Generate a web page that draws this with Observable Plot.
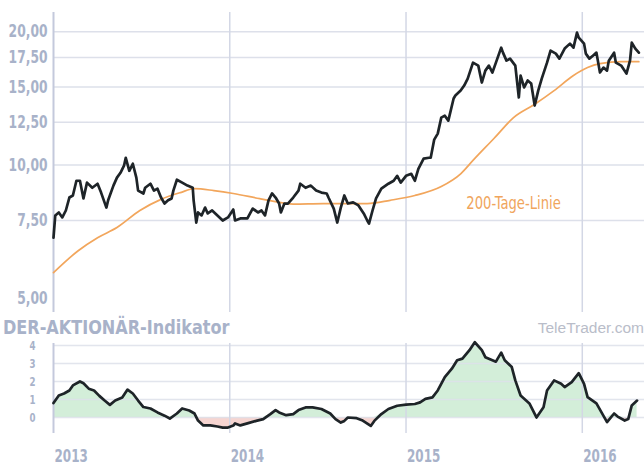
<!DOCTYPE html>
<html><head><meta charset="utf-8">
<script src="https://cdn.jsdelivr.net/npm/d3@7"></script>
<script src="https://cdn.jsdelivr.net/npm/@observablehq/plot@0.6"></script>
<style>
body{margin:0;background:#fff;}
#wrap{position:relative;width:644px;height:466px;overflow:hidden;background:#fff;}
#wrap svg{position:absolute;left:0;}
.lbl{position:absolute;white-space:nowrap;line-height:1;}
</style></head><body><div id="wrap"></div>
<script>
// Kurs (Euro), Zeitpunkte als Dezimaljahr
const priceT = [2013.00,2013.01,2013.03,2013.05,2013.07,2013.09,2013.11,2013.13,2013.15,2013.17,2013.19,2013.22,2013.25,2013.27,2013.30,2013.31,2013.34,2013.36,2013.38,2013.40,2013.41,2013.43,2013.45,2013.47,2013.48,2013.51,2013.52,2013.55,2013.57,2013.59,2013.61,2013.63,2013.65,2013.67,2013.68,2013.70,2013.73,2013.76,2013.79,2013.795,2013.81,2013.82,2013.84,2013.86,2013.875,2013.90,2013.93,2013.96,2013.99,2014.02,2014.03,2014.06,2014.10,2014.13,2014.16,2014.18,2014.20,2014.22,2014.24,2014.26,2014.28,2014.29,2014.31,2014.33,2014.36,2014.39,2014.40,2014.43,2014.46,2014.49,2014.52,2014.55,2014.56,2014.59,2014.61,2014.63,2014.65,2014.67,2014.70,2014.73,2014.76,2014.78,2014.79,2014.81,2014.83,2014.86,2014.90,2014.93,2014.95,2014.97,2015.00,2015.03,2015.05,2015.07,2015.10,2015.13,2015.14,2015.16,2015.18,2015.20,2015.22,2015.24,2015.27,2015.28,2015.31,2015.33,2015.35,2015.38,2015.41,2015.43,2015.45,2015.47,2015.49,2015.51,2015.54,2015.55,2015.57,2015.59,2015.62,2015.64,2015.65,2015.67,2015.69,2015.71,2015.73,2015.75,2015.77,2015.80,2015.82,2015.85,2015.87,2015.90,2015.93,2015.95,2015.97,2015.98,2016.01,2016.02,2016.04,2016.06,2016.08,2016.10,2016.12,2016.14,2016.15,2016.18,2016.19,2016.22,2016.25,2016.27,2016.28,2016.30,2016.32];
const priceV = [6.86,7.70,7.82,7.62,7.90,8.45,8.54,9.22,9.22,8.41,9.13,8.89,9.08,8.67,8.02,8.33,8.99,9.37,9.61,9.97,10.39,9.71,10.07,9.37,8.76,8.63,8.89,9.08,8.76,8.85,8.45,8.19,8.33,8.41,8.76,9.27,9.13,8.99,8.89,8.33,7.42,7.82,7.70,8.02,7.78,7.90,7.70,7.50,7.62,7.94,7.50,7.58,7.58,7.98,7.82,7.90,7.70,8.33,8.63,8.45,8.19,7.82,8.19,8.19,8.45,8.76,9.08,8.89,8.99,8.76,8.67,8.63,8.45,7.98,7.42,8.02,8.54,8.19,8.24,8.11,7.78,7.50,7.38,7.90,8.41,8.85,9.08,9.22,9.46,9.13,9.46,9.56,9.22,9.81,10.34,10.39,10.39,11.42,11.78,12.80,12.93,12.60,14.14,14.36,14.73,15.12,15.68,17.03,16.77,15.36,16.34,16.77,16.18,17.03,18.41,17.94,17.21,17.39,16.77,14.21,15.93,14.97,15.52,15.28,13.63,14.73,15.68,17.03,18.13,17.85,17.39,18.32,18.80,18.41,19.90,19.39,18.80,17.85,17.39,17.66,17.94,16.18,16.60,16.34,17.21,17.94,17.03,16.77,16.09,17.21,18.90,18.32,17.94];

// 200-Tage-Linie
const maT = [2013.00,2013.14,2013.25,2013.36,2013.49,2013.61,2013.72,2013.80,2013.91,2014.02,2014.17,2014.22,2014.36,2014.53,2014.78,2014.91,2015.05,2015.20,2015.31,2015.38,2015.50,2015.61,2015.73,2015.84,2015.95,2016.03,2016.10,2016.22,2016.32];
const maV = [5.72,6.41,6.86,7.23,7.90,8.37,8.67,8.85,8.76,8.63,8.40,8.33,8.17,8.19,8.19,8.33,8.54,8.95,9.56,10.25,11.50,12.80,13.72,14.73,15.93,16.60,16.94,17.12,17.12];

// DER-AKTIONÄR-Indikator
const indT = [2013.00,2013.03,2013.06,2013.09,2013.11,2013.15,2013.17,2013.20,2013.23,2013.26,2013.29,2013.32,2013.35,2013.39,2013.42,2013.45,2013.48,2013.51,2013.55,2013.59,2013.63,2013.66,2013.70,2013.73,2013.77,2013.80,2013.82,2013.85,2013.89,2013.93,2013.96,2013.99,2014.02,2014.03,2014.06,2014.10,2014.15,2014.19,2014.23,2014.26,2014.28,2014.32,2014.36,2014.39,2014.43,2014.47,2014.52,2014.57,2014.60,2014.63,2014.65,2014.67,2014.72,2014.75,2014.80,2014.82,2014.86,2014.90,2014.95,2015.00,2015.05,2015.08,2015.11,2015.15,2015.18,2015.22,2015.26,2015.29,2015.32,2015.36,2015.39,2015.43,2015.45,2015.49,2015.51,2015.54,2015.56,2015.60,2015.62,2015.65,2015.70,2015.74,2015.78,2015.80,2015.84,2015.88,2015.90,2015.94,2015.98,2016.01,2016.03,2016.08,2016.12,2016.14,2016.18,2016.20,2016.24,2016.26,2016.28,2016.31];
const indV = [0.80,1.22,1.33,1.50,1.78,2.00,1.90,1.60,1.50,1.20,0.94,0.70,0.94,1.11,1.55,1.33,0.94,0.58,0.50,0.28,0.10,-0.06,0.22,0.50,0.39,0.22,-0.17,-0.44,-0.44,-0.50,-0.56,-0.56,-0.45,-0.33,-0.44,-0.33,-0.19,-0.09,0.19,0.41,0.28,0.13,0.19,0.41,0.56,0.56,0.47,0.22,-0.09,-0.28,-0.19,0.00,-0.04,-0.15,-0.47,-0.19,0.19,0.47,0.65,0.71,0.75,0.84,1.03,1.12,1.50,2.24,2.71,3.18,3.27,3.74,4.18,3.74,3.35,3.18,3.10,3.60,3.18,2.80,2.06,1.22,0.78,0.00,0.57,1.50,2.06,1.87,1.69,1.96,2.46,1.87,1.13,0.78,0.09,-0.26,0.22,0.05,-0.17,-0.09,0.67,0.94];

const years = [2013, 2014, 2015, 2016];
const priceTicks = [5, 7.5, 10, 12.5, 15, 17.5, 20];
const indTicks = [0, 1, 2, 3, 4];
const maLabel = "200-Tage-Linie";

const toDate = t => {
  const y = Math.floor(t);
  const a = Date.UTC(y, 0, 1), b = Date.UTC(y + 1, 0, 1);
  return new Date(a + (t - y) * (b - a));
};
const priceData = priceT.map((t, i) => ({date: toDate(t), value: priceV[i]}));
const maData = maT.map((t, i) => ({date: toDate(t), value: maV[i]}));
const indData = indT.map((t, i) => ({date: toDate(t), value: indV[i]}));
const yearDates = years.map(y => new Date(Date.UTC(y, 0, 1)));
const xDomain = [yearDates[0], toDate(2016.352)];

const FONT = "'DejaVu Sans Condensed','DejaVu Sans',sans-serif";
const LBL = "#a8b2c9";
const GRID = "#dde0ea";
const VGRID = "#d3d7e5";
const AXIS = "#c4c9dc";
const fmt = d => d.toFixed(2).replace(".", ",");

const main = Plot.plot({
  width: 644, height: 314,
  marginLeft: 53, marginRight: 0, marginTop: 12, marginBottom: 2,
  style: {fontFamily: FONT, background: "transparent", overflow: "visible"},
  x: {type: "utc", domain: xDomain, axis: null},
  y: {type: "log", domain: [4.65, 22.1], axis: null},
  marks: [
    Plot.ruleY(priceTicks.slice(1), {stroke: GRID, strokeWidth: 1.5}),
    Plot.ruleX(yearDates.slice(1), {stroke: VGRID, strokeWidth: 1.5}),
    Plot.ruleX(yearDates.slice(0, 1), {stroke: AXIS, strokeWidth: 2}),
    Plot.axisY(priceTicks, {label: null, tickSize: 0, tickPadding: 6, tickFormat: fmt, fill: LBL, fontSize: 18, fontWeight: "bold", className: "sq"}),
    Plot.line(maData, {x: "date", y: "value", stroke: "#f2a65c", strokeWidth: 1.7, curve: "monotone-x"}),
    Plot.line(priceData, {x: "date", y: "value", stroke: "#1e2428", strokeWidth: 2.7, strokeLinejoin: "round"}),
    Plot.text([maLabel], {x: () => toDate(2015.61), y: () => 8.2, text: d => d, fill: "#f0a55c", fontSize: 17, textAnchor: "middle", className: "sq2"})
  ]
});
main.style.top = "0px";

const ind = Plot.plot({
  width: 644, height: 152,
  marginLeft: 53, marginRight: 0, marginTop: 29, marginBottom: 33,
  style: {fontFamily: FONT, background: "transparent", overflow: "visible"},
  x: {type: "utc", domain: xDomain, axis: null},
  y: {domain: [-0.89, 4.11], axis: null},
  marks: [
    Plot.areaY(indData, {x: "date", y1: 0, y2: d => Math.max(0, d.value), fill: "#d3eed9"}),
    Plot.areaY(indData, {x: "date", y1: 0, y2: d => Math.min(0, d.value), fill: "#f6d5d1"}),
    Plot.ruleY(indTicks, {stroke: GRID, strokeWidth: 1.5, strokeOpacity: 0.85}),
    Plot.ruleX(yearDates.slice(1), {stroke: VGRID, strokeWidth: 1.5}),
    Plot.ruleX(yearDates.slice(0, 1), {stroke: AXIS, strokeWidth: 2}),
    Plot.line(indData, {x: "date", y: "value", stroke: "#1e2428", strokeWidth: 2.7, strokeLinejoin: "round"}),
    Plot.axisY(indTicks, {label: null, tickSize: 0, tickPadding: 18, fill: LBL, fontSize: 13, fontWeight: "bold", className: "sq"}),
    Plot.axisX(yearDates, {label: null, tickSize: 0, tickPadding: 16, textAnchor: "start", dx: 1, tickFormat: d => String(d.getUTCFullYear()), fill: LBL, fontSize: 18, fontWeight: "bold", className: "sq"})
  ]
});
ind.style.top = "314px";

const wrap = document.getElementById("wrap");
wrap.appendChild(main);
wrap.appendChild(ind);

// horizontally condense label glyphs around their anchor (wrap each text in a scaled group)
function squeeze(svg, sel, s) {
  const NS = "http://www.w3.org/2000/svg";
  svg.querySelectorAll(sel).forEach(el => {
    const bb = el.getBBox();
    const anchor = getComputedStyle(el).textAnchor;
    const m = el.transform && el.transform.baseVal.consolidate();
    let ax = anchor === "end" ? bb.x + bb.width : anchor === "middle" ? bb.x + bb.width / 2 : bb.x;
    let ay = bb.y + bb.height / 2;
    if (m) { const mm = m.matrix; const px = mm.a * ax + mm.c * ay + mm.e; const py = mm.b * ax + mm.d * ay + mm.f; ax = px; ay = py; }
    const g = document.createElementNS(NS, "g");
    g.setAttribute("transform", `translate(${ax},${ay}) scale(${s},1) translate(${-ax},${-ay})`);
    el.parentNode.insertBefore(g, el);
    g.appendChild(el);
  });
}
squeeze(main, ".sq text", 0.76);
squeeze(main, ".sq2 text", 0.86);
squeeze(ind, ".sq text", 0.74);

const t1 = document.createElement("div");
t1.className = "lbl";
t1.textContent = "DER-AKTIONÄR-Indikator";
Object.assign(t1.style, {left: "3px", top: "318px", fontFamily: FONT, fontWeight: "bold", fontSize: "19px", color: LBL, transform: "scaleX(0.94)", transformOrigin: "0 0"});
wrap.appendChild(t1);

const t2 = document.createElement("div");
t2.className = "lbl";
t2.textContent = "TeleTrader.com";
Object.assign(t2.style, {right: "0px", top: "320px", fontFamily: "'Liberation Sans',Arial,sans-serif", fontSize: "15.5px", color: "#b9bdc9"});
wrap.appendChild(t2);
</script>
</body></html>
